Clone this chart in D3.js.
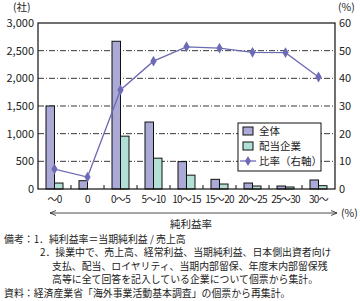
<!DOCTYPE html>
<html>
<head>
<meta charset="utf-8">
<script src="https://cdn.jsdelivr.net/npm/d3@7"></script>
<style>
  body { margin: 0; background: #fff; }
  svg text { font-family: "Noto Sans CJK JP", "Noto Sans", sans-serif; fill: #222; }
</style>
</head>
<body>
<script>
// Screen dimensions.
const WIDTH = 360;
const HEIGHT = 301;

// Data
const categories = ["～0", "0", "0～5", "5～10", "10～15", "15～20", "20～25", "25～30", "30～"];
const totalCount = [1500, 150, 2670, 1210, 495, 175, 108, 54, 163];
const dividendCount = [108, 0, 955, 557, 250, 90, 54, 36, 60];
const ratio = [7.2, 4.3, 35.8, 46.2, 51.4, 50.9, 49.4, 49.3, 40.5];
const leftTicks = [0, 500, 1000, 1500, 2000, 2500, 3000];
const rightTicks = [0, 10, 20, 30, 40, 50, 60];
const legendLabels = ["全体", "配当企業", "比率（右軸）"];
const notes = [
  {x: 4, text: "備考：1．純利益率＝当期純利益 / 売上高"},
  {x: 40, text: "2．操業中で、売上高、経常利益、当期純利益、日本側出資者向け"},
  {x: 52, text: "支払、配当、ロイヤリティ、当期内部留保、年度末内部留保残"},
  {x: 52, text: "高等に全て回答を記入している企業について個票から集計。"},
  {x: 4, text: "資料：経済産業省「海外事業活動基本調査」の個票から再集計。"}
];

const COL_TOTAL = "#aba9d6";
const COL_DIV = "#b2e0d6";
const COL_LINE = "#6d6bb5";

const svg = d3.select("body").append("svg").attr("width", WIDTH).attr("height", HEIGHT);

const plot = {left: 38, right: 335, top: 23, bottom: 189};

// Scales
const x = d3.scaleBand().domain(categories).range([plot.left, plot.right]);
const yL = d3.scaleLinear().domain([0, 3000]).range([plot.bottom, plot.top]);
const yR = d3.scaleLinear().domain([0, 60]).range([plot.bottom, plot.top]);

// Grid lines
svg.append("g").selectAll("line").data(leftTicks.slice(1, -1)).enter().append("line")
  .attr("x1", plot.left).attr("x2", plot.right)
  .attr("y1", d => yL(d)).attr("y2", d => yL(d))
  .attr("stroke", "#222").attr("stroke-width", 0.9)
  .attr("stroke-dasharray", "6,2,1,2");

// Left axis
const leftAxis = svg.append("g").attr("transform", `translate(${plot.left},0)`)
  .call(d3.axisLeft(yL).tickValues(leftTicks).tickSize(0).tickPadding(4).tickFormat(d3.format(",")));
leftAxis.select(".domain").remove();
leftAxis.selectAll("text").attr("font-size", 11).attr("fill", "#222");

// Right axis
const rightAxis = svg.append("g").attr("transform", `translate(${plot.right},0)`)
  .call(d3.axisRight(yR).tickValues(rightTicks).tickSize(0).tickPadding(4));
rightAxis.select(".domain").remove();
rightAxis.selectAll("text").attr("font-size", 11).attr("fill", "#222");

// Bars
const bw = 8.5;
svg.append("g").selectAll("rect").data(totalCount).enter().append("rect")
  .attr("x", (d, i) => x(categories[i]) + x.bandwidth() / 2 - bw)
  .attr("y", d => yL(d))
  .attr("width", bw)
  .attr("height", d => plot.bottom - yL(d))
  .attr("fill", COL_TOTAL).attr("stroke", "#111").attr("stroke-width", 1);

svg.append("g").selectAll("rect").data(dividendCount).enter().append("rect")
  .attr("x", (d, i) => x(categories[i]) + x.bandwidth() / 2)
  .attr("y", d => yL(d))
  .attr("width", bw)
  .attr("height", d => plot.bottom - yL(d))
  .attr("fill", COL_DIV).attr("stroke", "#111").attr("stroke-width", d => d > 0 ? 1 : 0);

// Frame
svg.append("rect")
  .attr("x", plot.left).attr("y", plot.top)
  .attr("width", plot.right - plot.left).attr("height", plot.bottom - plot.top)
  .attr("fill", "none").attr("stroke", "#111").attr("stroke-width", 1.2);

// Category boundary ticks
svg.append("g").selectAll("line").data(categories.slice(1)).enter().append("line")
  .attr("x1", d => x(d)).attr("x2", d => x(d))
  .attr("y1", plot.bottom - 4).attr("y2", plot.bottom)
  .attr("stroke", "#111");

// Ratio line
const line = d3.line().x((d, i) => x(categories[i]) + x.bandwidth() / 2).y(d => yR(d));
svg.append("path").datum(ratio).attr("d", line)
  .attr("fill", "none").attr("stroke", COL_LINE).attr("stroke-width", 1.3);
svg.append("g").selectAll("path").data(ratio).enter().append("path")
  .attr("d", d3.symbol().type(d3.symbolDiamond).size(34))
  .attr("transform", (d, i) => `translate(${x(categories[i]) + x.bandwidth() / 2},${yR(d)})`)
  .attr("fill", COL_LINE);

// X labels
svg.append("g").selectAll("text").data(categories).enter().append("text")
  .attr("x", d => x(d) + x.bandwidth() / 2)
  .attr("y", 203)
  .attr("text-anchor", "middle")
  .attr("font-size", 10)
  .attr("letter-spacing", -0.7)
  .text(d => d);

// Arrows
svg.append("line").attr("x1", 50).attr("x2", 337).attr("y1", 213).attr("y2", 213)
  .attr("stroke", "#222").attr("stroke-width", 0.8);
svg.append("path").attr("d", "M50,213 L56,210.5 M50,213 L56,215.5").attr("stroke", "#222").attr("stroke-width", 0.8).attr("fill", "none");
svg.append("path").attr("d", "M337,213 L331,210.5 M337,213 L331,215.5").attr("stroke", "#222").attr("stroke-width", 0.8).attr("fill", "none");
svg.append("text").attr("x", 341).attr("y", 217).attr("font-size", 10.5).text("(%)");
svg.append("text").attr("x", 191).attr("y", 228).attr("text-anchor", "middle").attr("font-size", 10.5).text("純利益率");

// Axis units
svg.append("text").attr("x", 13).attr("y", 11).attr("font-size", 10.5).text("(社)");
svg.append("text").attr("x", 338).attr("y", 11).attr("font-size", 10.5).text("(%)");

// Legend
const legend = svg.append("g").attr("transform", "translate(238,123)");
legend.append("rect").attr("width", 83).attr("height", 48)
  .attr("fill", "#fff").attr("stroke", "#111").attr("stroke-width", 1);
legend.append("rect").attr("x", 5).attr("y", 4).attr("width", 10).attr("height", 8)
  .attr("fill", COL_TOTAL).attr("stroke", "#111");
legend.append("rect").attr("x", 5).attr("y", 19).attr("width", 10).attr("height", 8)
  .attr("fill", COL_DIV).attr("stroke", "#111");
legend.append("line").attr("x1", 2).attr("x2", 18).attr("y1", 38).attr("y2", 38)
  .attr("stroke", COL_LINE).attr("stroke-width", 1.3);
legend.append("path").attr("d", d3.symbol().type(d3.symbolDiamond).size(30))
  .attr("transform", "translate(10,38)").attr("fill", COL_LINE);
legend.selectAll("text.lab").data(legendLabels).enter().append("text")
  .attr("class", "lab")
  .attr("x", 21).attr("y", (d, i) => 12 + i * 15)
  .attr("font-size", 10.5)
  .text(d => d);

// Notes
svg.append("g").selectAll("text").data(notes).enter().append("text")
  .attr("x", d => d.x).attr("y", (d, i) => 243 + i * 13.4)
  .attr("font-size", 9.9)
  .text(d => d.text);
</script>
</body>
</html>
